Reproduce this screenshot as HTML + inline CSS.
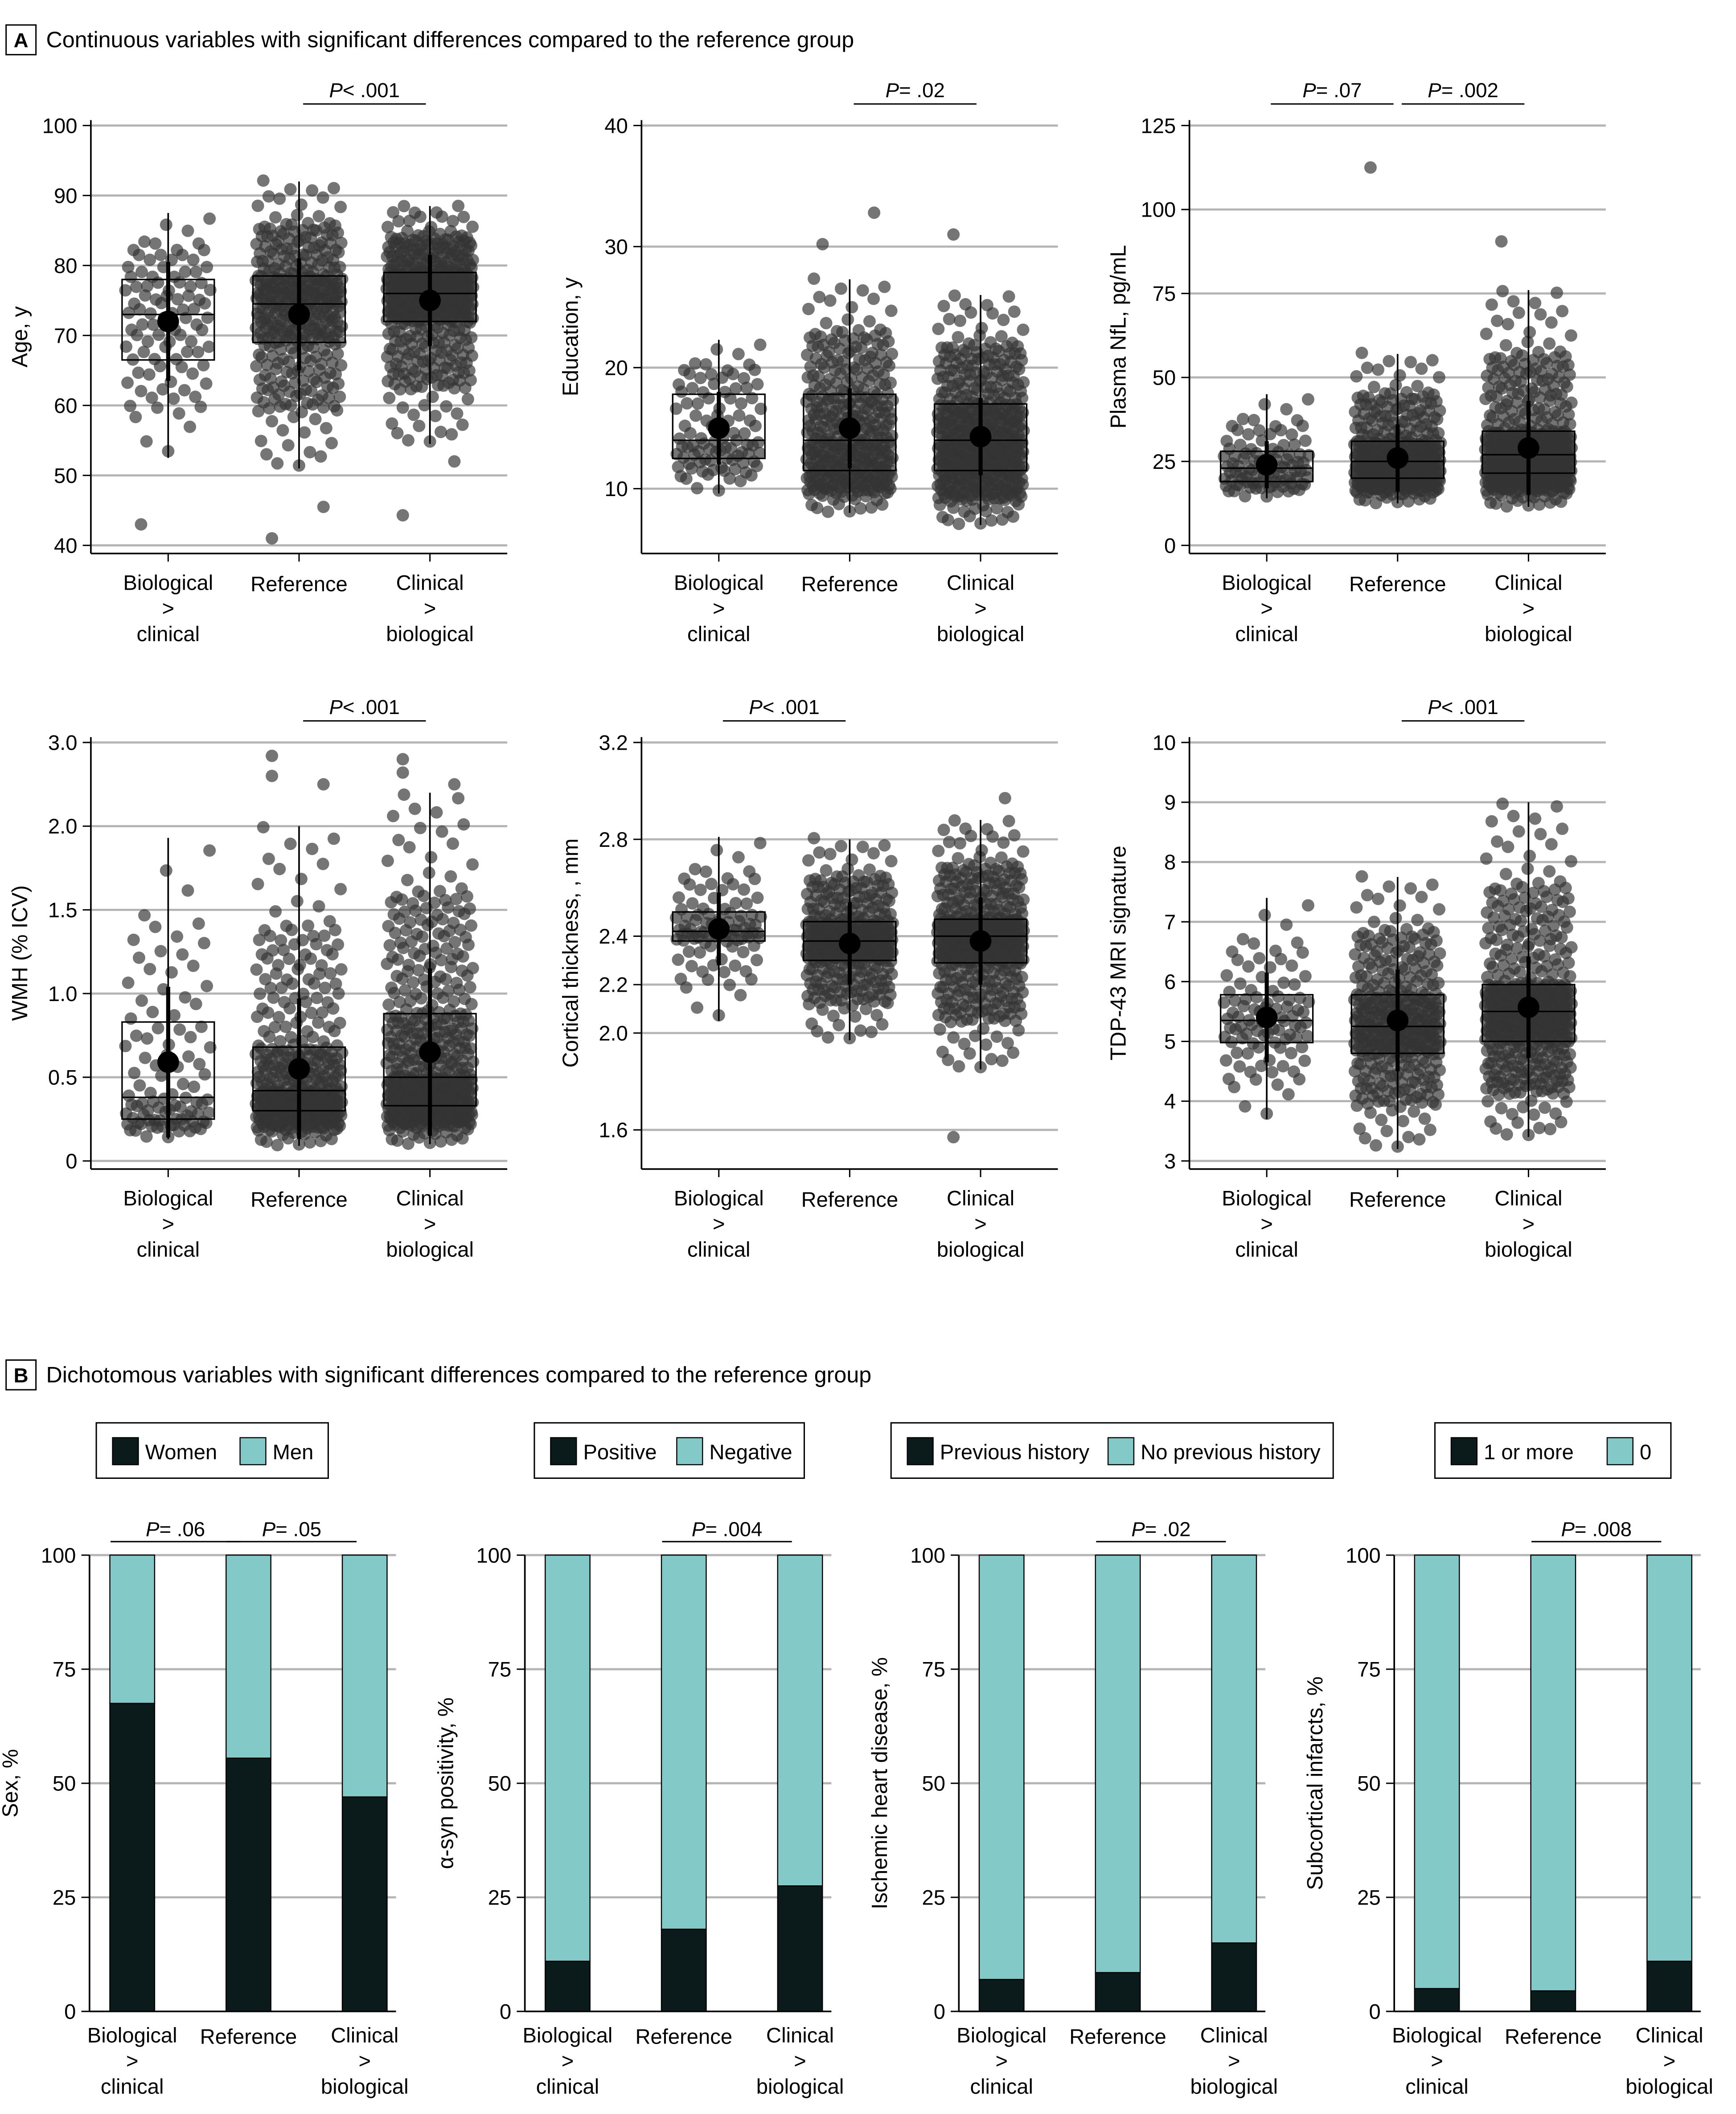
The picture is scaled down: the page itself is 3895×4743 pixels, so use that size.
<!DOCTYPE html>
<html><head><meta charset="utf-8"><style>
html,body{margin:0;padding:0;background:#fff;}
svg{display:block;font-family:"Liberation Sans",sans-serif;}
</style></head><body>
<svg id="fig" xmlns="http://www.w3.org/2000/svg" width="3895" height="4743" viewBox="0 0 1280 1566" preserveAspectRatio="none">
<g>
<rect x="4.5" y="18.5" width="22" height="22" fill="none" stroke="#000" stroke-width="1"/>
<text x="15.5" y="35" font-size="15" font-weight="bold" text-anchor="middle">A</text>
<text x="34" y="35" font-size="16.5">Continuous  variables with significant differences compared to the reference group</text>
</g>
<g>
<rect x="4.5" y="1007.5" width="22" height="22" fill="none" stroke="#000" stroke-width="1"/>
<text x="15.5" y="1024" font-size="15" font-weight="bold" text-anchor="middle">B</text>
<text x="34" y="1024" font-size="16.5">Dichotomous  variables with significant differences compared to the reference group</text>
</g>
</svg>
<script>
// ---------- Panel A data ----------
const groups = ["Biological > clinical","Reference","Clinical > biological"];
const groupCounts = [95, 360, 460];
const ageQ1=[66.5,69,72], ageMed=[73,74.5,76], ageQ3=[78,78.5,79], ageMean=[72,73,75], ageSD=[8.5,8,6.5], ageLo=[52.5,51,54.5], ageHi=[87.5,92,88.5], ageOut=[[43],[41,45.5],[44.3,52]];
const eduQ1=[12.5,11.5,11.5], eduMed=[14,14,14], eduQ3=[17.8,17.8,17], eduMean=[15,15,14.3], eduSD=[3,3.3,3.2], eduLo=[9.6,8,7], eduHi=[22.3,27.3,26], eduOut=[[],[30.2,32.8],[31]];
const nflQ1=[19,20,21.5], nflMed=[23,25,27], nflQ3=[28,31,34], nflMean=[24,26,29], nflSD=[7,10,14], nflLo=[14,12.5,11.5], nflHi=[45,57,76], nflOut=[[],[112.5],[90.5]];
const wmhQ1=[0.25,0.3,0.33], wmhMed=[0.38,0.42,0.5], wmhQ3=[0.83,0.68,0.88], wmhMean=[0.59,0.55,0.65], wmhSD=[0.45,0.42,0.5], wmhLo=[0.13,0.09,0.1], wmhHi=[1.93,2.0,2.2], wmhOut=[[],[2.3,2.25,2.42],[2.4,2.25,2.32]];
const ctQ1=[2.38,2.3,2.29], ctMed=[2.42,2.38,2.4], ctQ3=[2.5,2.46,2.47], ctMean=[2.43,2.37,2.38], ctSD=[0.15,0.17,0.18], ctLo=[2.05,1.97,1.85], ctHi=[2.81,2.8,2.88], ctOut=[[],[],[1.57,2.97]];
const tdpQ1=[4.98,4.8,5.0], tdpMed=[5.35,5.25,5.5], tdpQ3=[5.78,5.78,5.95], tdpMean=[5.4,5.35,5.57], tdpSD=[0.75,0.85,0.85], tdpLo=[3.7,3.2,3.4], tdpHi=[7.4,7.75,9.0], tdpOut=[[],[],[]];
const ageTicks=[40,50,60,70,80,90,100], eduTicks=[10,20,30,40], nflTicks=[0,25,50,75,100,125];
const wmhTicks=[0,0.5,1,1.5,2,2.5], wmhTickLabels=["0","0.5","1.0","1.5","2.0","3.0"];
const ctTicks=[1.6,2.0,2.2,2.4,2.8,3.2], ctTickLabels=["1.6","2.0","2.2","2.4","2.8","3.2"];
const tdpTicks=[3,4,5,6,7,8,9,10];
// ---------- Panel B data ----------
const barCats = groups;
const sexWomen=[67.5,55.5,47], synPos=[11,18,27.5], ihdPrev=[7,8.5,15], infOne=[5,4.5,11];
const pctTicks=[0,25,50,75,100];

const NS="http://www.w3.org/2000/svg";
const svg=document.getElementById('fig');
function el(tag,attrs,parent,txt){const e=document.createElementNS(NS,tag);for(const k in attrs)e.setAttribute(k,attrs[k]);if(txt!==undefined)e.textContent=txt;(parent||svg).appendChild(e);return e;}
function vdc(k,b){let r=0,f=1/b;while(k>0){r+=f*(k%b);k=Math.floor(k/b);f/=b;}return r;}

function contPanel(cfg){
  const g=el('g',{});
  
  
  const L=cfg.x, R=cfg.x+307, T=cfg.top, B=cfg.bottom;
  const y=v=>cfg.y0+(v-cfg.v0)*(cfg.y1-cfg.y0)/(cfg.v1-cfg.v0);
  const gx=i=>L+57+i*96.5;
  cfg.ticks.forEach((t,i)=>{
    const yy=y(t);
    el('line',{x1:L,x2:R,y1:yy,y2:yy,stroke:'#b4b4b4','stroke-width':1.6},g);
    el('line',{x1:L-6,x2:L,y1:yy,y2:yy,stroke:'#000','stroke-width':1},g);
    const lab=el('text',{x:L-10,y:yy+5.5,'font-size':15.5,'text-anchor':'end'},g,cfg.labels?cfg.labels[i]:String(t));
    
    
  });
  el('line',{x1:L,x2:L,y1:T,y2:B,stroke:'#000','stroke-width':1.2},g);
  el('line',{x1:L,x2:R,y1:B,y2:B,stroke:'#000','stroke-width':1.2},g);
  const yt=el('text',{transform:`translate(${L-47},${(T+B)/2}) rotate(-90)`,'font-size':16,'text-anchor':'middle'},g,cfg.title);
  
  
  for(let i=0;i<3;i++){
    const cx=gx(i);
    el('line',{x1:cx,x2:cx,y1:B,y2:B+6,stroke:'#000','stroke-width':1},g);
    const n=groupCounts[i];
    const lo=cfg.lo[i], q1=cfg.q1[i], q3=cfg.q3[i], hi=cfg.hi[i];
    const qv=[lo, q1-(q1-lo)*0.55, q1, cfg.med[i], q3, q3+(hi-q3)*0.55, hi];
    const qp=[0,0.04,0.25,0.5,0.75,0.96,1];
    const dg=el('g',{fill:'#333','fill-opacity':0.68},g);
    
    
    for(let k=0;k<n;k++){
      const p=(k+0.5)/n; let s=0; while(s<5&&p>qp[s+1])s++;
      const f=(p-qp[s])/(qp[s+1]-qp[s]);
      const v=qv[s]+(qv[s+1]-qv[s])*f;
      const jx=vdc(k+1,2)*2-1;
      const jy=(vdc(k+1,3)-0.5)*4;
      el('circle',{cx:cx+jx*32,cy:y(v)+jy,r:4.6},dg);
    }
    cfg.out[i].forEach((v,k)=>el('circle',{cx:cx+(k%2?18:-20),cy:y(v),r:4.6},dg));
    const bx=el('rect',{x:cx-34,y:y(cfg.q3[i]),width:68,height:y(cfg.q1[i])-y(cfg.q3[i]),fill:'none',stroke:'#000','stroke-width':1.1},g);
    
    
    el('line',{x1:cx-34,x2:cx+34,y1:y(cfg.med[i]),y2:y(cfg.med[i]),stroke:'#000','stroke-width':1.1},g);
    el('line',{x1:cx,x2:cx,y1:y(cfg.lo[i]),y2:y(cfg.hi[i]),stroke:'#000','stroke-width':1.2},g);
    el('line',{x1:cx,x2:cx,y1:y(cfg.mean[i]-cfg.sd[i]),y2:y(cfg.mean[i]+cfg.sd[i]),stroke:'#000','stroke-width':3},g);
    const m=el('circle',{cx:cx,cy:y(cfg.mean[i]),r:8,fill:'#000'},g);
    
    
    const ly=B+28;
    if(i===1){el('text',{x:cx,y:ly,'font-size':15.5,'text-anchor':'middle'},g,'Reference');}
    else{
      const w=i===0?['Biological','>','clinical']:['Clinical','>','biological'];
      w.forEach((t,j)=>el('text',{x:cx,y:ly-1+j*19,'font-size':15.5,'text-anchor':'middle'},g,t));
    }
  }
  cfg.pvals.forEach(pv=>{
    const a=gx(pv[0]), b=gx(pv[1]);
    const by=T-12;
    el('line',{x1:a+3,x2:b-3,y1:by,y2:by,stroke:'#000','stroke-width':1},g);
    const t=el('text',{x:(a+b)/2,y:by-5,'font-size':15,'text-anchor':'middle'},g);
    
    
    el('tspan',{'font-style':'italic'},t,'P');
    el('tspan',{},t,pv[2]);
  });
}
const r1={top:89,bottom:410}, r2={top:546,bottom:866};
contPanel({name:'age-chart',x:67,...r1,v0:100,y0:93,v1:40,y1:404,ticks:ageTicks,title:'Age, y',q1:ageQ1,med:ageMed,q3:ageQ3,mean:ageMean,sd:ageSD,lo:ageLo,hi:ageHi,out:ageOut,pvals:[[1,2,'< .001']]});
contPanel({name:'education-chart',x:473,...r1,v0:40,y0:93,v1:10,y1:362,ticks:eduTicks,title:'Education, y',q1:eduQ1,med:eduMed,q3:eduQ3,mean:eduMean,sd:eduSD,lo:eduLo,hi:eduHi,out:eduOut,pvals:[[1,2,'= .02']]});
contPanel({name:'nfl-chart',x:877,...r1,v0:125,y0:93,v1:0,y1:404,ticks:nflTicks,title:'Plasma NfL, pg/mL',q1:nflQ1,med:nflMed,q3:nflQ3,mean:nflMean,sd:nflSD,lo:nflLo,hi:nflHi,out:nflOut,pvals:[[0,1,'= .07'],[1,2,'= .002']]});
contPanel({name:'wmh-chart',x:67,...r2,v0:2.5,y0:550,v1:0,y1:860,ticks:wmhTicks,labels:wmhTickLabels,title:'WMH (% ICV)',q1:wmhQ1,med:wmhMed,q3:wmhQ3,mean:wmhMean,sd:wmhSD,lo:wmhLo,hi:wmhHi,out:wmhOut,pvals:[[1,2,'< .001']]});
contPanel({name:'cortical-thickness-chart',x:473,...r2,v0:3.2,y0:550,v1:1.6,y1:837,ticks:ctTicks,labels:ctTickLabels,title:'Cortical thickness, , mm',q1:ctQ1,med:ctMed,q3:ctQ3,mean:ctMean,sd:ctSD,lo:ctLo,hi:ctHi,out:ctOut,pvals:[[0,1,'< .001']]});
contPanel({name:'tdp43-chart',x:877,...r2,v0:10,y0:550,v1:3,y1:860,ticks:tdpTicks,title:'TDP-43 MRI signature',q1:tdpQ1,med:tdpMed,q3:tdpQ3,mean:tdpMean,sd:tdpSD,lo:tdpLo,hi:tdpHi,out:tdpOut,pvals:[[1,2,'< .001']]});

const DARK='#0b1a1b', TEAL='#82c9c7';
function barPanel(cfg){
  const g=el('g',{});
  
  
  const L=cfg.x, R=L+226, T=1152, B=1490;
  const y=v=>B-(v/100)*(B-T);
  const bx=i=>L+15+i*85.7;
  pctTicks.forEach(t=>{
    const yy=y(t);
    if(t>0)el('line',{x1:L,x2:R,y1:yy,y2:yy,stroke:'#b4b4b4','stroke-width':1.6},g);
    el('line',{x1:L-6,x2:L,y1:yy,y2:yy,stroke:'#000','stroke-width':1},g);
    const lab=el('text',{x:L-10,y:yy+5.5,'font-size':15.5,'text-anchor':'end'},g,String(t));
    
    
  });
  el('line',{x1:L,x2:L,y1:T,y2:B,stroke:'#000','stroke-width':1.2},g);
  el('line',{x1:L,x2:R,y1:B,y2:B,stroke:'#000','stroke-width':1.2},g);
  const yt=el('text',{transform:`translate(${L-53},${(T+B)/2}) rotate(-90)`,'font-size':16,'text-anchor':'middle'},g,cfg.title);
  
  
  for(let i=0;i<3;i++){
    const x0=bx(i), v=cfg.vals[i];
    const top=el('rect',{x:x0,y:y(100),width:33,height:y(v)-y(100),fill:TEAL,stroke:'#000','stroke-width':0.8},g);
    
    
    const bot=el('rect',{x:x0,y:y(v),width:33,height:B-y(v),fill:DARK,stroke:'#000','stroke-width':0.8},g);
    
    
    const cx=x0+16.5;
    if(i===1){el('text',{x:cx,y:1514,'font-size':15.5,'text-anchor':'middle'},g,'Reference');}
    else{
      const w=i===0?['Biological','>','clinical']:['Clinical','>','biological'];
      w.forEach((t,j)=>el('text',{x:cx,y:1513+j*19,'font-size':15.5,'text-anchor':'middle'},g,t));
    }
  }
  cfg.pvals.forEach(pv=>{
    const a=bx(pv[0])+16.5, b=bx(pv[1])+16.5;
    el('line',{x1:a-16,x2:b-6,y1:1142,y2:1142,stroke:'#000','stroke-width':1},g);
    const t=el('text',{x:(a+b)/2-11,y:1138,'font-size':15,'text-anchor':'middle'},g);
    
    
    el('tspan',{'font-style':'italic'},t,'P');
    el('tspan',{},t,pv[2]);
  });
  const lg=el('g',{},g);
  
  
  const lx=cfg.leg[0], lw=cfg.leg[1];
  el('rect',{x:lx,y:1054,width:lw,height:41,fill:'#fff',stroke:'#000','stroke-width':1},lg);
  el('rect',{x:lx+12,y:1065,width:19,height:20,fill:DARK,stroke:'#000','stroke-width':0.8},lg);
  el('text',{x:lx+36,y:1081,'font-size':15.5},lg,cfg.l1);
  el('rect',{x:lx+cfg.leg[2],y:1065,width:19,height:20,fill:TEAL,stroke:'#000','stroke-width':0.8},lg);
  el('text',{x:lx+cfg.leg[2]+24,y:1081,'font-size':15.5},lg,cfg.l2);
}
barPanel({name:'sex-chart',x:66,title:'Sex, %',vals:sexWomen,key1:'women',key2:'men',l1:'Women',l2:'Men',leg:[71,171,106],pvals:[[0,1,'= .06'],[1,2,'= .05']]});
barPanel({name:'alpha-syn-chart',x:387,title:'α-syn positivity, %',vals:synPos,key1:'positive',key2:'negative',l1:'Positive',l2:'Negative',leg:[394,199,105],pvals:[[1,2,'= .004']]});
barPanel({name:'ischemic-heart-chart',x:707,title:'Ischemic heart disease, %',vals:ihdPrev,key1:'previous',key2:'no-previous',l1:'Previous history',l2:'No previous history',leg:[657,326,160],pvals:[[1,2,'= .02']]});
barPanel({name:'subcortical-infarcts-chart',x:1028,title:'Subcortical infarcts, %',vals:infOne,key1:'one-or-more',key2:'zero',l1:'1 or more',l2:'0',leg:[1058,174,127],pvals:[[1,2,'= .008']]});
</script>
</body></html>
